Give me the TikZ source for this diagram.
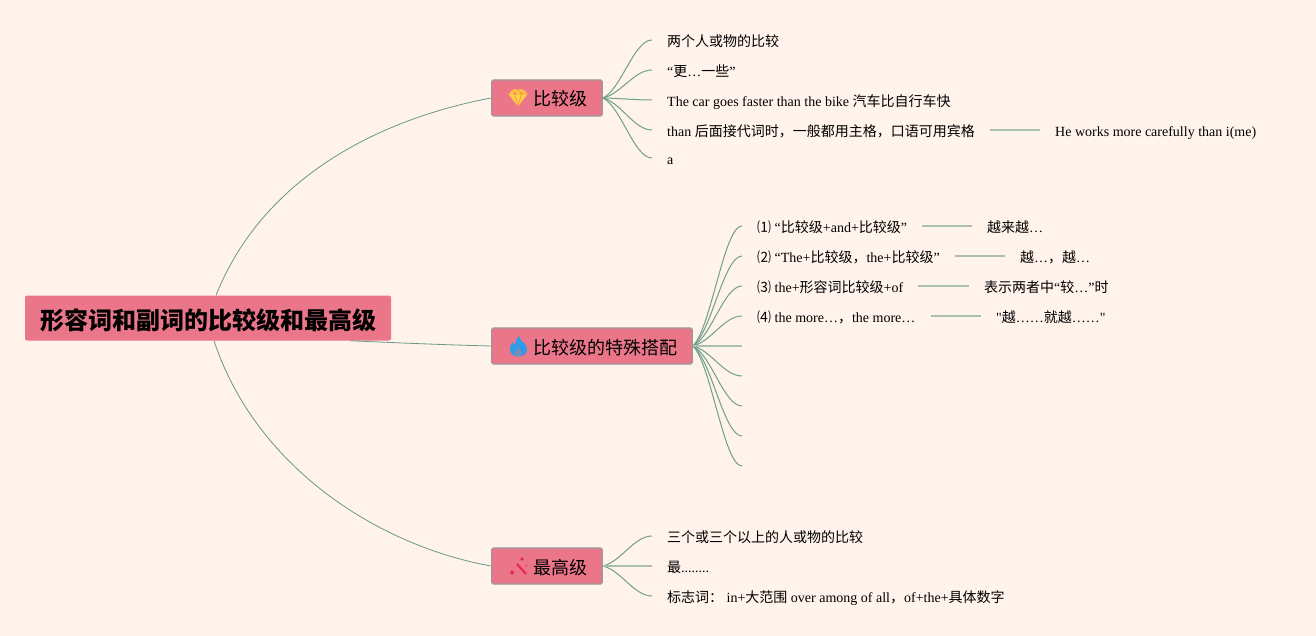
\documentclass[tikz,border=0pt]{standalone}
\usepackage{fontspec}
\usetikzlibrary{calc}
\setmainfont{Liberation Serif}
\newfontfamily\plainserif{Liberation Serif}
\newfontfamily\cjk{Noto Sans CJK SC}
\newcommand{\zh}[1]{{\cjk #1}}
\newcommand{\twig}[2]{\draw[edge] (#1.east) .. controls ($(#1.east)!0.15!(#2.west)+(11,0)$) and +(-18,0) .. (#2.west);}
\definecolor{paper}{RGB}{255,243,236}
\definecolor{rose}{RGB}{236,118,137}
\definecolor{twiggreen}{RGB}{112,160,138}
\definecolor{boughgreen}{RGB}{104,154,131}
\definecolor{stem}{RGB}{170,192,174}
\definecolor{gem}{RGB}{255,208,70}
\definecolor{flame}{RGB}{45,155,232}
\definecolor{wand}{RGB}{232,38,92}
\tikzset{
  rootnode/.style={fill=rose,rounded corners=2pt,minimum width=366pt,minimum height=45pt,inner sep=0pt,text height=24pt,text depth=2pt,font=\fontsize{24}{24}\selectfont\cjk\bfseries},
  branch/.style={anchor=west,fill=rose,draw=black!40,line width=1.2pt,rounded corners=1.5pt,minimum height=36pt,inner xsep=14.7pt,inner ysep=0pt,text height=18pt,text depth=2pt,font=\fontsize{18}{18}\selectfont\cjk},
  leaf/.style={anchor=west,inner xsep=15pt,inner ysep=0pt,text height=14.6pt,text depth=1.4pt,font=\fontsize{14}{14}\selectfont\plainserif},
  hole/.style={anchor=west,inner sep=0pt,minimum size=0pt},
  bough/.style={draw=boughgreen,line width=0.8pt},
  edge/.style={draw=twiggreen,line width=1pt},
  level/.style={draw=stem,line width=1.3pt}
}
\begin{document}
\begin{tikzpicture}[x=1pt,y=-1pt]
\path[fill=paper] (0,0) rectangle (1316,636);
\useasboundingbox (0,0) rectangle (1316,636);

\node[rootnode] (root) at (208,318) {形容词和副词的比较级和最高级};
\node[branch] (cmp) at (491,98) {\hspace*{27.3pt}比较级};
\node[branch] (spec) at (491,346) {\hspace*{27.3pt}比较级的特殊搭配};
\node[branch] (top) at (491,566) {\hspace*{27.3pt}最高级};

\draw[bough] ([xshift=8pt]root.north) .. controls (262,180) and (375,120) .. (cmp.west);
\draw[bough] ([xshift=142pt]root.south) .. controls (400,343) and (450,345) .. (spec.west);
\draw[bough] ([xshift=6pt]root.south) .. controls (255,465) and (375,545) .. (top.west);

% comparative leaves
\node[leaf] (c1) at (652,40) {\zh{两个人或物的比较}};
\node[leaf] (c2) at (652,70) {“\zh{更}…\zh{一些}”};
\node[leaf] (c3) at (652,100) {The car goes faster than the bike \zh{汽车比自行车快}};
\node[leaf] (c4) at (652,130) {than \zh{后面接代词时，一般都用主格，口语可用宾格}};
\node[leaf] (c5) at (652,158) {a};
\node[leaf] (c4x) at (1040,130) {He works more carefully than i(me)};
\foreach \n in {c1,c2,c3,c4,c5}
  \twig{cmp}{\n}
\draw[level] (c4.east) -- (c4x.west);

% special patterns
\node[leaf] (s1) at (742,226) {\zh{⑴} “\zh{比较级}+and+\zh{比较级}”};
\node[leaf] (s2) at (742,256) {\zh{⑵} “The+\zh{比较级，}the+\zh{比较级}”};
\node[leaf] (s3) at (742,286) {\zh{⑶} the+\zh{形容词比较级}+of};
\node[leaf] (s4) at (742,316) {\zh{⑷} the more…\zh{，}the more…};
\node[hole] (s5) at (742,346) {};
\node[hole] (s6) at (742,376) {};
\node[hole] (s7) at (742,406) {};
\node[hole] (s8) at (742,436) {};
\node[hole] (s9) at (742,466) {};
\foreach \n in {s1,s2,s3,s4,s6,s7,s8,s9}
  \twig{spec}{\n}
\draw[level] (spec.east) -- (s5.west);
\node[leaf] (s1x) at (972,226) {\zh{越来越}…};
\node[leaf] (s2x) at (1005,256) {\zh{越}…\zh{，越}…};
\node[leaf] (s3x) at (969,286) {\zh{表示两者中}“\zh{较}…”\zh{时}};
\node[leaf] (s4x) at (981,316) {"\zh{越}……\zh{就越}……"};
\foreach \n in {s1,s2,s3,s4}
  \draw[level] (\n.east) -- (\n x.west);

% superlative leaves
\node[leaf] (t1) at (652,536) {\zh{三个或三个以上的人或物的比较}};
\node[leaf] (t2) at (652,566) {\zh{最}........};
\node[leaf] (t3) at (652,596) {\zh{标志词：} in+\zh{大范围} over among of all\zh{，}of+the+\zh{具体数字}};
\twig{top}{t1}
\twig{top}{t3}
\draw[level] (top.east) -- (t2.west);

% icons
\fill[gem] (508.5,94) -- (513,89.5) -- (523,89.5) -- (527.5,94) -- (518,106.5) -- cycle;
\draw[rose!50!orange,line width=0.5pt] (509,94) -- (527,94) (513,89.5) -- (514.5,94) -- (518,106) -- (521.5,94) -- (523,89.5) (514.5,94) -- (518,89.5) -- (521.5,94);
\fill[flame] (519,336) .. controls (519,341) and (527,343) .. (527,349) .. controls (527,354) and (523,356.5) .. (518,356.5) .. controls (513,356.5) and (510,353) .. (510,349) .. controls (510,346) and (511,344) .. (512.5,342) .. controls (513,344) and (514,345) .. (515,345) .. controls (515,342) and (516,339) .. (519,336) -- cycle;
\fill[flame!60!rose] (518.5,347) .. controls (520,350) and (522,351) .. (522,353) .. controls (522,355.5) and (520,356.5) .. (518.5,356.5) .. controls (516,356.5) and (514.5,355) .. (514.5,353) .. controls (514.5,351) and (517,350) .. (518.5,347) -- cycle;
\draw[wand,line width=2.2pt] (517,564) -- (526,574);
\fill[wand] (512,569.5) -- (513,571.5) -- (515,572.5) -- (513,573.5) -- (512,575.5) -- (511,573.5) -- (509.5,572.5) -- (511,571.5) -- cycle;
\fill[wand] (522,559) circle (1.8pt) (526.5,566) circle (0.8pt);
\end{tikzpicture}
\end{document}
